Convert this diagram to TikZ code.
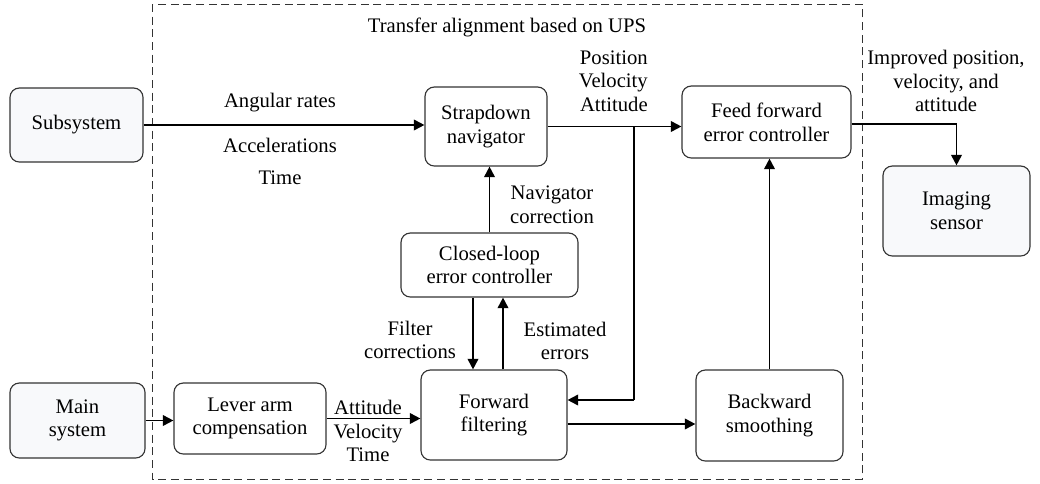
\documentclass[tikz,border=0pt]{standalone}
\usepackage{fontspec}
\setmainfont{Liberation Serif}
\usetikzlibrary{arrows.meta,positioning,calc}
\definecolor{extfill}{RGB}{248,249,251}
\begin{document}
\begin{tikzpicture}[x=0.75pt,y=-0.75pt,
  box/.style={draw=black!80,line width=0.85pt,rounded corners=7pt,align=center,
    font=\fontsize{15.5}{17.8}\selectfont,inner sep=2pt},
  ext/.style={box,fill=extfill},
  lbl/.style={align=center,font=\fontsize{15.5}{17.8}\selectfont,inner sep=0pt},
  arr/.style={line width=1.4pt,-{Triangle[length=8pt,width=8pt]}},
  thinln/.style={line width=0.8pt}]
\useasboundingbox (0,0) rectangle (1040,483);
\draw[dash pattern=on 6pt off 3.5pt,line width=0.7pt,black!80] (152,4) rectangle (862,479);
\node[lbl] (title) at (507,27) {Transfer alignment based on UPS};

\node[ext,minimum width=133*0.75pt,minimum height=74*0.75pt] (sub) at (76.5,125) {Subsystem};
\node[box,minimum width=122*0.75pt,minimum height=79*0.75pt] (sdn) at (486,126.5) {Strapdown\\navigator};
\node[box,minimum width=169*0.75pt,minimum height=72*0.75pt] (ffc) at (766.5,122) {Feed forward\\error controller};
\node[ext,minimum width=147*0.75pt,minimum height=90*0.75pt] (img) at (956.5,211) {Imaging\\sensor};
\node[box,minimum width=177*0.75pt,minimum height=64*0.75pt] (cl) at (489.5,265) {Closed-loop\\error controller};
\node[box,minimum width=146*0.75pt,minimum height=90*0.75pt] (fwd) at (494,415) {Forward\\filtering};
\node[box,minimum width=147*0.75pt,minimum height=91*0.75pt] (bwd) at (769.5,415.5) {Backward\\smoothing};
\node[ext,minimum width=135*0.75pt,minimum height=75*0.75pt] (main) at (77.5,420.5) {Main\\system};
\node[box,minimum width=152*0.75pt,minimum height=71*0.75pt] (lev) at (250,418.5) {Lever arm\\compensation};

% labels
\node[lbl] (l1) at (280,103) {Angular rates};
\node[lbl] (l2) at (280,145) {Accelerations};
\node[lbl] (l3) at (280,178) {Time};
\node[lbl,align=right,anchor=east] (l4) at (648,81) {Position\\Velocity\\Attitude};
\node[lbl] (l5) at (946,81) {Improved position,\\velocity, and\\attitude};
\node[lbl] (l6) at (552,205) {Navigator\\correction};
\node[lbl] (l7) at (410,340) {Filter\\corrections};
\node[lbl] (l8) at (565,341) {Estimated\\errors};
\node[lbl] (l9) at (368,431) {Attitude\\Velocity\\Time};

% connectors
\draw[arr] (sub.east) -- (sub.east -| sdn.west);
\draw[arr] (sdn.east) -- (sdn.east -| ffc.west);
\coordinate (ja) at (634,0);
\coordinate (jt) at (ja |- sdn.east);
\coordinate (jb) at (634,400);
\draw[thinln] (jt) -- (jb);
\draw[arr] (jb) -- (jb -| fwd.east);
\coordinate (k) at ([yshift=-2*0.75pt]ffc.east);
\draw[thinln] (k) -- (k -| img.north);
\draw[arr] (k -| img.north) -- (img.north);
\draw[arr] (bwd.north) -- (bwd.north |- ffc.south);
\draw[arr] ([yshift=-9*0.75pt]fwd.east) -- ([yshift=-9*0.75pt]fwd.east -| bwd.west);
\draw[arr] (cl.north) -- (cl.north |- sdn.south);
\draw[arr] ([xshift=-16.5*0.75pt]cl.south) -- ([xshift=-16.5*0.75pt]cl.south |- fwd.north);
\draw[arr] ([xshift=9*0.75pt]fwd.north) -- ([xshift=9*0.75pt]fwd.north |- cl.south);
\draw[arr] (main.east) -- (main.east -| lev.west);
\draw[arr] (lev.east) -- (lev.east -| fwd.west);
\end{tikzpicture}
\end{document}
